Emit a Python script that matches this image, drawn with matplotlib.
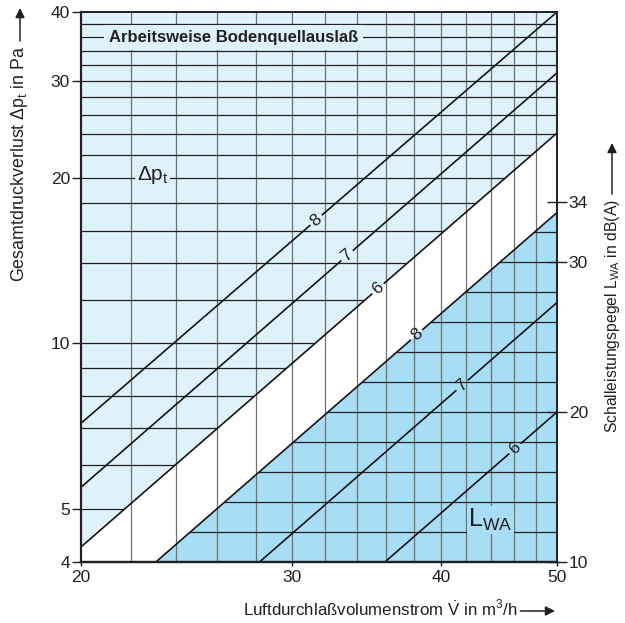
import math
import matplotlib
matplotlib.use('Agg')
import matplotlib.pyplot as plt
from matplotlib.ticker import NullLocator

plt.rcParams['font.family'] = ['Liberation Sans', 'DejaVu Sans']
plt.rcParams['mathtext.fontset'] = 'custom'
plt.rcParams['mathtext.rm'] = 'Liberation Sans'
plt.rcParams['mathtext.it'] = 'Liberation Sans:italic'
plt.rcParams['lines.scale_dashes'] = False

INK = '#231f20'
LIGHT = '#dff2fb'
DARK = '#a8ddf6'
plt.rcParams['text.color'] = INK

# --- data ---
v_range = [20, 50]            # m3/h
p_range = [4, 40]             # Pa (log)
lwa_range = [10, 46.67]       # dB(A), linear right axis

dp_curves = ['8', '7', '6']
dp_start = [7.15, 5.47, 4.26]     # Pa at 20 m3/h
dp_end = [40.0, 31.0, 24.1]       # Pa at 50 m3/h
dp_label_pos = [0.494, 0.559, 0.624]

lwa_curves = ['8', '7', '6']
lwa_v_start = [23.1, 28.2, 35.9]  # m3/h where curve meets 10 dB(A)
lwa_end = [33.3, 27.3, 20.0]      # dB(A) at 50 m3/h
lwa_label_pos = [0.65, 0.681, 0.756]

grid_v = list(range(22, 50, 2))
grid_p = [5, 6, 7, 8, 9, 10] + list(range(12, 40, 2))
grid_lwa = list(range(12, 34, 2))

x_ticks = [20, 30, 40, 50]
p_ticks = [4, 5, 10, 20, 30, 40]
lwa_ticks = [10, 20, 30, 34]

fig = plt.figure(figsize=(6.25, 6.23), dpi=100)
ax = fig.add_axes([81 / 625, 1 - 562 / 623, 476 / 625, 550 / 623])
ax.set_xscale('log')
ax.set_yscale('log')
ax.set_xlim(*v_range)
ax.set_ylim(*p_range)
ax2 = ax.twinx()
ax2.set_ylim(*lwa_range)

# regions
light = ax.fill([v_range[0], v_range[1], v_range[1], v_range[0]],
                [dp_start[2], dp_end[2], p_range[1], p_range[1]],
                color=LIGHT, lw=0, zorder=0)[0]
dark = ax.fill([lwa_v_start[0], v_range[1], v_range[1]],
               [lwa_range[0], lwa_end[0], lwa_range[0]],
               transform=ax2.transData, color=DARK, lw=0, zorder=0)[0]

# grid
ax.vlines(grid_v, p_range[0], p_range[1], colors='#707070', lw=0.9, zorder=1)
hl = ax.hlines(grid_p, v_range[0], v_range[1], colors='#222222', lw=0.9, zorder=1)
hl.set_clip_path(light)
hd = ax.hlines(grid_lwa, v_range[0], v_range[1], colors='#222222', lw=0.9,
               zorder=1, transform=ax2.transData)
hd.set_clip_path(dark)


def curve(x0, y0, x1, y1, frac, label, trans):
    p0 = trans.transform((x0, y0))
    p1 = trans.transform((x1, y1))
    dx, dy = p1 - p0
    length = math.hypot(dx, dy)
    gap = 15
    k = 72 / fig.dpi
    dashes = ((frac * length - gap / 2) * k, gap * k, length * k + 10, 1)
    ax.plot([x0, x1], [y0, y1], transform=trans, color='#151515', lw=1.2,
            dashes=dashes, zorder=3, clip_on=False)
    pos = p0 + frac * (p1 - p0)
    tx, ty = trans.inverted().transform(pos)
    ax.text(tx, ty, label, transform=trans, rotation=math.degrees(math.atan2(dy, dx)),
            rotation_mode='anchor', ha='center', va='center', fontsize=12.5, zorder=4)


for name, a, b, f in zip(dp_curves, dp_start, dp_end, dp_label_pos):
    curve(v_range[0], a, v_range[1], b, f, name, ax.transData)
for name, a, b, f in zip(lwa_curves, lwa_v_start, lwa_end, lwa_label_pos):
    curve(a, lwa_range[0], v_range[1], b, f, name, ax2.transData)

# texts inside
ax.text(21.1, 36, 'Arbeitsweise Bodenquellauslaß', fontsize=12, fontweight='bold',
        ha='left', va='center', zorder=4,
        bbox=dict(boxstyle='square,pad=0.3', fc=LIGHT, ec='none'))
ax.text(22.95, 20.2, r'Δp$_\mathrm{t}$', fontsize=15, ha='center', va='center', zorder=4,
        bbox=dict(boxstyle='square,pad=0.1', fc=LIGHT, ec='none'))
ax2.text(44.0, 12.8, r'L$_\mathrm{WA}$', fontsize=18, ha='center', va='center', zorder=4,
         bbox=dict(boxstyle='square,pad=0.05', fc=DARK, ec='none'))

# ticks
ax.set_xticks(x_ticks, [str(t) for t in x_ticks])
ax.xaxis.set_minor_locator(NullLocator())
ax.set_yticks(p_ticks, [str(t) for t in p_ticks])
ax.yaxis.set_minor_locator(NullLocator())
ax.tick_params(axis='y', direction='out', length=6.5, width=1, pad=1.5,
               labelsize=12.5, colors=INK)
ax.tick_params(axis='x', direction='out', length=3, width=1, pad=3,
               labelsize=12.5, colors=INK)
ax2.set_yticks(lwa_ticks, [str(t) for t in lwa_ticks])
ax2.yaxis.set_minor_locator(NullLocator())
ax2.tick_params(axis='y', direction='inout', length=14, width=1, pad=1.5,
                labelsize=12.5, colors=INK)

for a in (ax, ax2):
    for side, w in (('left', 1.5), ('bottom', 1.6), ('top', 1.2), ('right', 1.2)):
        a.spines[side].set_linewidth(w)
        a.spines[side].set_color(INK)
    a.set_zorder(2 if a is ax2 else 1)
ax2.patch.set_visible(False)

# axis titles with arrows
tl = fig.text(20 / 625, 1 - 282 / 623, r'Gesamtdruckverlust Δp$_\mathrm{t}$ in Pa',
              rotation=90, ha='center', va='bottom', fontsize=12.8)
tr = fig.text(612 / 625, 1 - 433 / 623, r'Schalleistungspegel L$_\mathrm{WA}$ in dB(A)',
              rotation=90, ha='center', va='bottom', fontsize=11.3)
tb = fig.text(243 / 625, 1 - 616 / 623, r'Luftdurchlaßvolumenstrom $\dot{\mathrm{V}}$ in m$^3$/h',
              ha='left', va='baseline', fontsize=12.2)
fig.canvas.draw()
r = fig.canvas.get_renderer()
arrow = dict(arrowstyle='-|>', lw=1.1, color=INK, mutation_scale=14, shrinkA=0, shrinkB=0)
bl = tl.get_window_extent(r)
fig.add_artist(plt.Annotation('', xy=(20, 623 - 8), xytext=(20, bl.y1 + 5),
                              xycoords='figure pixels', textcoords='figure pixels',
                              arrowprops=arrow))
br = tr.get_window_extent(r)
fig.add_artist(plt.Annotation('', xy=(612, 623 - 143), xytext=(612, br.y1 + 5),
                              xycoords='figure pixels', textcoords='figure pixels',
                              arrowprops=arrow))
bb = tb.get_window_extent(r)
fig.add_artist(plt.Annotation('', xy=(555, 623 - 611), xytext=(bb.x1 + 3, 623 - 611),
                              xycoords='figure pixels', textcoords='figure pixels',
                              arrowprops=arrow))

fig.savefig('out.png', dpi=100)
